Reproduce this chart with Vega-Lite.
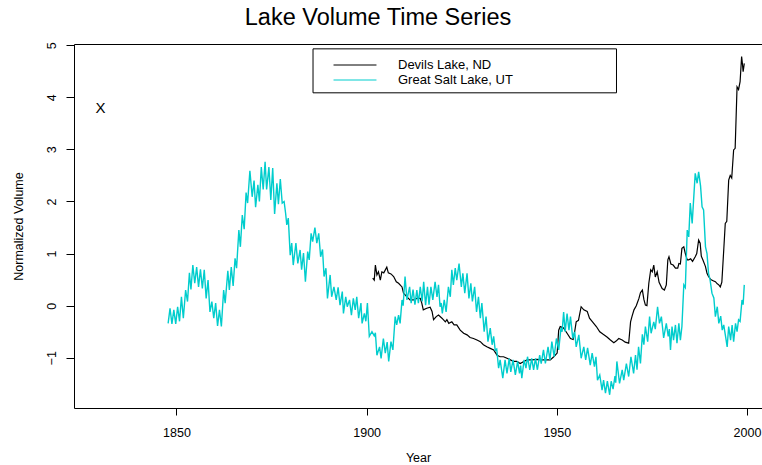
{
  "$schema": "https://vega.github.io/schema/vega-lite/v6.json",
  "autosize": {"type": "none"},
  "padding": {"left": 74, "top": 44, "right": 0, "bottom": 57},
  "width": 688,
  "height": 364,
  "background": "white",
  "title": {"text": "Lake Volume Time Series", "fontSize": 23.5, "font": "Liberation Sans", "fontWeight": "normal", "color": "black", "anchor": "middle", "frame": "group", "dx": -40, "offset": -7, "baseline": "alphabetic"},
  "config": {
    "view": {"stroke": "black", "strokeWidth": 1},
    "axis": {"grid": false, "domain": false, "tickColor": "black", "labelColor": "black", "titleColor": "black", "labelFont": "Liberation Sans", "titleFont": "Liberation Sans", "labelFontSize": 12.5, "titleFontSize": 12.5, "titleFontWeight": "normal"}
  },
  "datasets": {
    "devils": [
      {"year":1901.6,"volume":0.53},{"year":1902.0,"volume":0.49},{"year":1902.3,"volume":0.78},{"year":1902.7,"volume":0.59},{"year":1903.1,"volume":0.65},{"year":1903.6,"volume":0.49},{"year":1904.0,"volume":0.65},{"year":1904.5,"volume":0.63},{"year":1905.3,"volume":0.74},{"year":1905.7,"volume":0.63},{"year":1906.4,"volume":0.61},{"year":1907.1,"volume":0.56},{"year":1907.8,"volume":0.46},{"year":1908.4,"volume":0.43},{"year":1909.3,"volume":0.36},{"year":1909.7,"volume":0.24},{"year":1910.6,"volume":0.17},{"year":1911.4,"volume":0.11},{"year":1912.3,"volume":0.11},{"year":1913.2,"volume":0.14},{"year":1914.1,"volume":0.14},{"year":1914.5,"volume":0.05},{"year":1914.9,"volume":-0.08},{"year":1915.8,"volume":-0.05},{"year":1916.7,"volume":-0.03},{"year":1917.2,"volume":-0.11},{"year":1917.6,"volume":-0.27},{"year":1918.3,"volume":-0.21},{"year":1918.9,"volume":-0.18},{"year":1919.8,"volume":-0.24},{"year":1920.7,"volume":-0.31},{"year":1921.1,"volume":-0.27},{"year":1921.6,"volume":-0.34},{"year":1922.4,"volume":-0.31},{"year":1923.0,"volume":-0.37},{"year":1923.7,"volume":-0.37},{"year":1924.6,"volume":-0.47},{"year":1925.5,"volume":-0.53},{"year":1926.4,"volume":-0.56},{"year":1927.2,"volume":-0.61},{"year":1928.1,"volume":-0.63},{"year":1929.0,"volume":-0.66},{"year":1929.9,"volume":-0.69},{"year":1930.7,"volume":-0.75},{"year":1931.6,"volume":-0.79},{"year":1932.5,"volume":-0.82},{"year":1933.4,"volume":-0.85},{"year":1934.3,"volume":-0.95},{"year":1935.1,"volume":-0.98},{"year":1936.0,"volume":-0.98},{"year":1936.9,"volume":-1.01},{"year":1937.8,"volume":-1.04},{"year":1938.6,"volume":-1.07},{"year":1939.5,"volume":-1.07},{"year":1940.4,"volume":-1.11},{"year":1941.3,"volume":-1.07},{"year":1942.2,"volume":-1.04},{"year":1943.5,"volume":-1.04},{"year":1944.8,"volume":-1.03},{"year":1946.1,"volume":-1.04},{"year":1947.4,"volume":-1.04},{"year":1948.3,"volume":-1.04},{"year":1949.2,"volume":-0.98},{"year":1950.1,"volume":-0.91},{"year":1950.5,"volume":-0.47},{"year":1950.9,"volume":-0.40},{"year":1951.8,"volume":-0.43},{"year":1952.7,"volume":-0.53},{"year":1953.6,"volume":-0.63},{"year":1954.3,"volume":-0.65},{"year":1954.7,"volume":-0.50},{"year":1955.1,"volume":-0.31},{"year":1955.7,"volume":-0.28},{"year":1956.4,"volume":-0.02},{"year":1957.1,"volume":-0.08},{"year":1958.0,"volume":-0.11},{"year":1958.6,"volume":-0.24},{"year":1959.5,"volume":-0.32},{"year":1960.4,"volume":-0.40},{"year":1961.3,"volume":-0.50},{"year":1962.2,"volume":-0.55},{"year":1963.2,"volume":-0.60},{"year":1964.1,"volume":-0.66},{"year":1965.0,"volume":-0.71},{"year":1965.6,"volume":-0.68},{"year":1966.3,"volume":-0.63},{"year":1967.2,"volume":-0.66},{"year":1968.0,"volume":-0.70},{"year":1968.9,"volume":-0.72},{"year":1969.4,"volume":-0.31},{"year":1969.8,"volume":-0.20},{"year":1970.3,"volume":-0.08},{"year":1970.9,"volume":0.00},{"year":1971.6,"volume":0.14},{"year":1972.0,"volume":0.25},{"year":1972.5,"volume":0.30},{"year":1972.9,"volume":0.12},{"year":1973.3,"volume":0.01},{"year":1973.7,"volume":0.00},{"year":1974.2,"volume":0.43},{"year":1974.7,"volume":0.69},{"year":1975.1,"volume":0.65},{"year":1975.5,"volume":0.78},{"year":1975.9,"volume":0.55},{"year":1976.4,"volume":0.65},{"year":1976.9,"volume":0.45},{"year":1977.7,"volume":0.33},{"year":1978.3,"volume":0.30},{"year":1978.8,"volume":0.40},{"year":1979.2,"volume":0.88},{"year":1979.5,"volume":0.94},{"year":1980.0,"volume":0.80},{"year":1980.6,"volume":0.78},{"year":1981.2,"volume":0.72},{"year":1981.8,"volume":0.72},{"year":1982.1,"volume":0.81},{"year":1982.5,"volume":0.80},{"year":1982.9,"volume":1.10},{"year":1983.4,"volume":1.13},{"year":1983.8,"volume":1.00},{"year":1984.3,"volume":0.88},{"year":1984.7,"volume":0.88},{"year":1985.2,"volume":0.90},{"year":1985.7,"volume":0.85},{"year":1986.4,"volume":0.94},{"year":1986.8,"volume":1.00},{"year":1987.3,"volume":1.26},{"year":1987.7,"volume":1.20},{"year":1988.0,"volume":0.95},{"year":1988.4,"volume":0.88},{"year":1989.1,"volume":0.75},{"year":1989.5,"volume":0.62},{"year":1989.9,"volume":0.56},{"year":1990.5,"volume":0.50},{"year":1991.1,"volume":0.48},{"year":1991.7,"volume":0.46},{"year":1992.2,"volume":0.42},{"year":1992.6,"volume":0.40},{"year":1993.0,"volume":0.36},{"year":1993.4,"volume":0.45},{"year":1993.9,"volume":1.07},{"year":1994.3,"volume":1.58},{"year":1994.7,"volume":1.62},{"year":1995.2,"volume":2.41},{"year":1995.6,"volume":2.50},{"year":1996.0,"volume":2.45},{"year":1996.5,"volume":2.99},{"year":1996.9,"volume":3.02},{"year":1997.4,"volume":4.20},{"year":1997.8,"volume":4.15},{"year":1998.2,"volume":4.30},{"year":1998.6,"volume":4.78},{"year":1998.8,"volume":4.65},{"year":1999.0,"volume":4.49},{"year":1999.3,"volume":4.65}
    ],
    "saltlake": [
      {"year":1847.8,"volume":-0.34},{"year":1848.3,"volume":-0.05},{"year":1848.8,"volume":-0.35},{"year":1849.3,"volume":-0.08},{"year":1849.8,"volume":-0.35},{"year":1850.3,"volume":-0.02},{"year":1850.8,"volume":-0.30},{"year":1851.3,"volume":0.17},{"year":1851.8,"volume":-0.24},{"year":1852.4,"volume":0.30},{"year":1852.9,"volume":0.08},{"year":1853.4,"volume":0.63},{"year":1853.8,"volume":0.31},{"year":1854.3,"volume":0.78},{"year":1854.8,"volume":0.43},{"year":1855.3,"volume":0.74},{"year":1855.8,"volume":0.36},{"year":1856.3,"volume":0.70},{"year":1856.8,"volume":0.33},{"year":1857.3,"volume":0.69},{"year":1857.8,"volume":0.14},{"year":1858.3,"volume":0.49},{"year":1858.8,"volume":-0.12},{"year":1859.3,"volume":0.08},{"year":1859.8,"volume":-0.24},{"year":1860.3,"volume":0.05},{"year":1860.8,"volume":-0.39},{"year":1861.3,"volume":-0.08},{"year":1861.8,"volume":-0.40},{"year":1862.4,"volume":0.30},{"year":1862.8,"volume":0.05},{"year":1863.5,"volume":0.67},{"year":1863.9,"volume":0.30},{"year":1864.4,"volume":0.74},{"year":1864.9,"volume":0.38},{"year":1865.4,"volume":0.91},{"year":1865.8,"volume":0.72},{"year":1866.4,"volume":1.45},{"year":1866.8,"volume":1.13},{"year":1867.3,"volume":1.74},{"year":1867.8,"volume":1.47},{"year":1868.3,"volume":2.17},{"year":1868.7,"volume":1.97},{"year":1869.3,"volume":2.59},{"year":1869.9,"volume":2.09},{"year":1870.4,"volume":2.40},{"year":1870.8,"volume":1.89},{"year":1871.4,"volume":2.32},{"year":1871.8,"volume":2.00},{"year":1872.3,"volume":2.66},{"year":1872.8,"volume":2.23},{"year":1873.3,"volume":2.76},{"year":1873.7,"volume":2.23},{"year":1874.3,"volume":2.66},{"year":1874.8,"volume":2.03},{"year":1875.3,"volume":2.64},{"year":1875.8,"volume":1.76},{"year":1876.4,"volume":2.35},{"year":1876.8,"volume":1.95},{"year":1877.3,"volume":2.43},{"year":1877.8,"volume":1.97},{"year":1878.3,"volume":2.00},{"year":1878.7,"volume":1.77},{"year":1879.0,"volume":1.55},{"year":1879.4,"volume":1.68},{"year":1879.9,"volume":0.97},{"year":1880.3,"volume":1.20},{"year":1880.7,"volume":0.78},{"year":1881.4,"volume":1.20},{"year":1881.9,"volume":0.81},{"year":1882.5,"volume":1.07},{"year":1882.9,"volume":0.69},{"year":1883.4,"volume":1.01},{"year":1883.9,"volume":0.46},{"year":1884.5,"volume":1.04},{"year":1884.9,"volume":0.88},{"year":1885.4,"volume":1.39},{"year":1885.8,"volume":1.23},{"year":1886.4,"volume":1.50},{"year":1886.9,"volume":1.20},{"year":1887.4,"volume":1.39},{"year":1887.9,"volume":0.94},{"year":1888.4,"volume":1.08},{"year":1888.8,"volume":0.56},{"year":1889.3,"volume":0.72},{"year":1889.7,"volume":0.14},{"year":1890.4,"volume":0.59},{"year":1890.8,"volume":0.17},{"year":1891.4,"volume":0.36},{"year":1892.0,"volume":0.11},{"year":1892.5,"volume":0.35},{"year":1893.0,"volume":0.01},{"year":1893.6,"volume":0.27},{"year":1893.9,"volume":-0.15},{"year":1894.5,"volume":0.17},{"year":1894.9,"volume":-0.02},{"year":1895.5,"volume":0.11},{"year":1896.0,"volume":-0.18},{"year":1896.5,"volume":0.14},{"year":1897.0,"volume":-0.08},{"year":1897.4,"volume":0.17},{"year":1897.9,"volume":-0.24},{"year":1898.5,"volume":0.05},{"year":1898.8,"volume":-0.34},{"year":1899.4,"volume":-0.15},{"year":1899.8,"volume":-0.30},{"year":1900.2,"volume":0.05},{"year":1900.7,"volume":-0.59},{"year":1901.4,"volume":-0.50},{"year":1902.0,"volume":-0.58},{"year":1902.3,"volume":-0.52},{"year":1902.7,"volume":-0.95},{"year":1903.4,"volume":-0.79},{"year":1903.8,"volume":-1.01},{"year":1904.4,"volume":-0.63},{"year":1904.9,"volume":-0.91},{"year":1905.4,"volume":-0.70},{"year":1905.8,"volume":-1.07},{"year":1906.4,"volume":-0.69},{"year":1906.9,"volume":-0.85},{"year":1907.5,"volume":-0.21},{"year":1907.9,"volume":-0.37},{"year":1908.4,"volume":-0.18},{"year":1908.8,"volume":-0.34},{"year":1909.3,"volume":0.11},{"year":1909.6,"volume":0.00},{"year":1910.1,"volume":0.56},{"year":1910.6,"volume":0.11},{"year":1911.3,"volume":0.36},{"year":1911.7,"volume":0.05},{"year":1912.2,"volume":0.31},{"year":1912.7,"volume":0.02},{"year":1913.2,"volume":0.30},{"year":1913.6,"volume":0.05},{"year":1914.1,"volume":0.36},{"year":1914.6,"volume":0.08},{"year":1915.0,"volume":0.46},{"year":1915.5,"volume":0.01},{"year":1916.0,"volume":0.36},{"year":1916.4,"volume":0.02},{"year":1916.9,"volume":0.36},{"year":1917.4,"volume":0.11},{"year":1918.0,"volume":0.46},{"year":1918.5,"volume":0.17},{"year":1918.9,"volume":0.40},{"year":1919.3,"volume":-0.02},{"year":1919.6,"volume":0.05},{"year":1919.9,"volume":-0.15},{"year":1920.4,"volume":0.11},{"year":1920.9,"volume":-0.12},{"year":1921.5,"volume":0.36},{"year":1922.0,"volume":0.17},{"year":1922.4,"volume":0.69},{"year":1922.8,"volume":0.40},{"year":1923.3,"volume":0.72},{"year":1923.7,"volume":0.49},{"year":1924.3,"volume":0.81},{"year":1924.9,"volume":0.36},{"year":1925.3,"volume":0.62},{"year":1925.8,"volume":0.24},{"year":1926.4,"volume":0.62},{"year":1926.9,"volume":0.14},{"year":1927.4,"volume":0.43},{"year":1927.8,"volume":0.08},{"year":1928.4,"volume":0.36},{"year":1928.9,"volume":-0.12},{"year":1929.4,"volume":0.17},{"year":1929.9,"volume":-0.24},{"year":1930.3,"volume":0.05},{"year":1930.9,"volume":-0.50},{"year":1931.4,"volume":-0.21},{"year":1931.9,"volume":-0.69},{"year":1932.5,"volume":-0.43},{"year":1933.0,"volume":-0.75},{"year":1933.4,"volume":-0.59},{"year":1933.8,"volume":-0.85},{"year":1934.2,"volume":-0.83},{"year":1934.7,"volume":-1.20},{"year":1935.1,"volume":-1.04},{"year":1935.8,"volume":-1.39},{"year":1936.4,"volume":-1.04},{"year":1936.9,"volume":-1.30},{"year":1937.5,"volume":-1.01},{"year":1937.9,"volume":-1.27},{"year":1938.5,"volume":-1.04},{"year":1939.1,"volume":-1.33},{"year":1939.7,"volume":-1.07},{"year":1940.2,"volume":-1.30},{"year":1940.5,"volume":-1.15},{"year":1940.8,"volume":-1.39},{"year":1941.4,"volume":-1.04},{"year":1941.9,"volume":-1.20},{"year":1942.3,"volume":-0.98},{"year":1942.9,"volume":-1.23},{"year":1943.4,"volume":-1.01},{"year":1943.9,"volume":-1.23},{"year":1944.4,"volume":-1.01},{"year":1944.9,"volume":-1.23},{"year":1945.5,"volume":-0.95},{"year":1945.9,"volume":-1.11},{"year":1946.5,"volume":-0.85},{"year":1947.0,"volume":-1.11},{"year":1947.7,"volume":-0.79},{"year":1948.2,"volume":-1.04},{"year":1948.7,"volume":-0.69},{"year":1949.3,"volume":-0.98},{"year":1949.9,"volume":-0.63},{"year":1950.5,"volume":-0.85},{"year":1951.1,"volume":-0.43},{"year":1951.4,"volume":-0.50},{"year":1951.8,"volume":-0.12},{"year":1952.2,"volume":-0.50},{"year":1952.7,"volume":-0.15},{"year":1953.2,"volume":-0.47},{"year":1953.6,"volume":-0.21},{"year":1954.2,"volume":-0.63},{"year":1954.7,"volume":-0.50},{"year":1955.1,"volume":-0.79},{"year":1955.8,"volume":-0.56},{"year":1956.4,"volume":-1.01},{"year":1957.1,"volume":-0.79},{"year":1957.6,"volume":-1.04},{"year":1958.1,"volume":-0.81},{"year":1958.8,"volume":-1.14},{"year":1959.3,"volume":-0.91},{"year":1959.9,"volume":-1.17},{"year":1960.3,"volume":-0.98},{"year":1960.7,"volume":-1.43},{"year":1961.3,"volume":-1.33},{"year":1961.9,"volume":-1.62},{"year":1962.3,"volume":-1.43},{"year":1962.8,"volume":-1.68},{"year":1963.3,"volume":-1.45},{"year":1963.9,"volume":-1.71},{"year":1964.3,"volume":-1.45},{"year":1964.8,"volume":-1.60},{"year":1965.3,"volume":-1.35},{"year":1965.5,"volume":-1.48},{"year":1965.8,"volume":-1.07},{"year":1966.5,"volume":-1.49},{"year":1967.2,"volume":-1.23},{"year":1967.6,"volume":-1.43},{"year":1968.3,"volume":-1.11},{"year":1968.9,"volume":-1.36},{"year":1969.5,"volume":-0.98},{"year":1970.2,"volume":-1.30},{"year":1970.7,"volume":-0.95},{"year":1971.1,"volume":-1.23},{"year":1971.5,"volume":-0.79},{"year":1972.0,"volume":-1.11},{"year":1972.5,"volume":-0.55},{"year":1972.9,"volume":-0.75},{"year":1973.3,"volume":-0.40},{"year":1973.9,"volume":-0.69},{"year":1974.4,"volume":-0.21},{"year":1974.8,"volume":-0.53},{"year":1975.5,"volume":-0.31},{"year":1975.9,"volume":-0.45},{"year":1976.5,"volume":-0.02},{"year":1977.0,"volume":-0.34},{"year":1977.5,"volume":-0.21},{"year":1978.1,"volume":-0.62},{"year":1978.8,"volume":-0.34},{"year":1979.3,"volume":-0.59},{"year":1979.6,"volume":-0.45},{"year":1979.9,"volume":-0.85},{"year":1980.3,"volume":-0.40},{"year":1980.7,"volume":-0.66},{"year":1981.2,"volume":-0.37},{"year":1981.6,"volume":-0.72},{"year":1982.1,"volume":-0.34},{"year":1982.5,"volume":-0.66},{"year":1982.9,"volume":-0.40},{"year":1983.4,"volume":0.40},{"year":1983.8,"volume":0.35},{"year":1984.3,"volume":1.45},{"year":1984.7,"volume":1.32},{"year":1985.1,"volume":1.97},{"year":1985.6,"volume":1.58},{"year":1986.4,"volume":2.54},{"year":1986.9,"volume":2.35},{"year":1987.3,"volume":2.57},{"year":1987.8,"volume":2.30},{"year":1988.2,"volume":1.90},{"year":1988.6,"volume":1.84},{"year":1989.1,"volume":1.13},{"year":1989.5,"volume":1.00},{"year":1989.9,"volume":0.62},{"year":1990.3,"volume":0.50},{"year":1990.8,"volume":0.24},{"year":1991.3,"volume":0.15},{"year":1991.7,"volume":-0.21},{"year":1992.2,"volume":-0.02},{"year":1992.6,"volume":-0.34},{"year":1993.1,"volume":-0.20},{"year":1993.5,"volume":-0.47},{"year":1993.9,"volume":-0.37},{"year":1994.4,"volume":-0.60},{"year":1994.8,"volume":-0.79},{"year":1995.2,"volume":-0.40},{"year":1995.7,"volume":-0.66},{"year":1996.1,"volume":-0.37},{"year":1996.5,"volume":-0.69},{"year":1997.0,"volume":-0.34},{"year":1997.4,"volume":-0.50},{"year":1997.8,"volume":-0.27},{"year":1998.2,"volume":-0.30},{"year":1998.7,"volume":0.11},{"year":1999.0,"volume":0.02},{"year":1999.3,"volume":0.40}
    ],
    "marker": [{"year": 1830, "volume": 3.8, "label": "X"}],
    "legendbox": [{"x1": 1885.9, "x2": 1965.7, "y1": 4.93, "y2": 4.086}]
  },
  "layer": [
    {
      "data": {"name": "legendbox"},
      "mark": {"type": "rect", "fill": "white", "stroke": "black", "strokeWidth": 1},
      "encoding": {
        "x": {"field": "x1", "type": "quantitative", "scale": {"domain": [1823.05, 2003.96], "nice": false, "zero": false},
              "axis": {"values": [1850, 1900, 1950, 2000], "format": "d", "title": "Year", "tickSize": 7, "labelPadding": 11, "titlePadding": 13, "labelFlush": false}},
        "x2": {"field": "x2"},
        "y": {"field": "y1", "type": "quantitative", "scale": {"domain": [-1.964, 5.023], "nice": false, "zero": false},
              "axis": {"values": [-1, 0, 1, 2, 3, 4, 5], "format": "d", "title": "Normalized Volume", "tickSize": 8, "labelAngle": -90, "labelAlign": "center", "labelBaseline": "alphabetic", "labelPadding": 11, "titleX": -56, "titleY": 182, "titleAlign": "center", "titleBaseline": "middle", "titleAngle": -90}},
        "y2": {"field": "y2"}
      }
    },
    {
      "data": {"name": "devils"},
      "mark": {"type": "line", "strokeWidth": 1.2, "interpolate": "linear"},
      "encoding": {
        "x": {"field": "year", "type": "quantitative"},
        "y": {"field": "volume", "type": "quantitative"},
        "color": {"datum": "Devils Lake, ND", "type": "nominal",
                  "scale": {"domain": ["Devils Lake, ND", "Great Salt Lake, UT"], "range": ["#000000", "#00CDCD"]},
                  "legend": {"title": null, "orient": "none", "legendX": 273, "legendY": 13, "symbolType": "M-3,0L3,0", "symbolSize": 205, "symbolStrokeWidth": 1, "labelFont": "Liberation Sans", "labelFontSize": 13, "labelColor": "black", "labelOffset": 35, "rowPadding": -1, "padding": 0}}
      }
    },
    {
      "data": {"name": "saltlake"},
      "mark": {"type": "line", "strokeWidth": 1.4, "interpolate": "linear"},
      "encoding": {
        "x": {"field": "year", "type": "quantitative"},
        "y": {"field": "volume", "type": "quantitative"},
        "color": {"datum": "Great Salt Lake, UT", "type": "nominal"}
      }
    },
    {
      "data": {"name": "marker"},
      "mark": {"type": "text", "font": "Liberation Sans", "fontSize": 15, "color": "black", "baseline": "middle", "align": "center"},
      "encoding": {
        "x": {"field": "year", "type": "quantitative"},
        "y": {"field": "volume", "type": "quantitative"},
        "text": {"field": "label"}
      }
    }
  ]
}
